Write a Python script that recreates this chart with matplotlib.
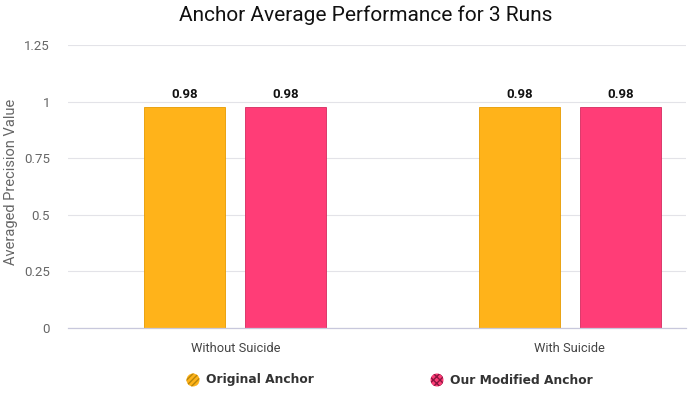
import matplotlib
matplotlib.use("Agg")
import matplotlib.pyplot as plt
from matplotlib.patches import Ellipse
import numpy as np

categories = ["Without Suicide", "With Suicide"]
series_names = ["Original Anchor", "Our Modified Anchor"]
original = [0.975, 0.975]
modified = [0.975, 0.975]
labels_orig = ["0.98", "0.98"]
labels_mod = ["0.98", "0.98"]
yticks = [0, 0.25, 0.5, 0.75, 1, 1.25]
ytick_labels = ["0", "0.25", "0.5", "0.75", "1", "1.25"]

colors = ["#FFB31A", "#FF3D77"]
edge = ["#E69A00", "#D62A5E"]

W, H = 688, 393
fig = plt.figure(figsize=(W/100, H/100), dpi=100)
ax = fig.add_axes([68/W, (H-328)/H, (686-68)/W, (328-45)/H])

x = np.arange(len(categories))
bw = 0.2425
off = 0.151
b1 = ax.bar(x - off, original, bw, color=colors[0], edgecolor=edge[0], linewidth=0.6, zorder=3)
b2 = ax.bar(x + off, modified, bw, color=colors[1], edgecolor=edge[1], linewidth=0.6, zorder=3)

for bars, labs in ((b1, labels_orig), (b2, labels_mod)):
    for r, l in zip(bars, labs):
        ax.text(r.get_x() + r.get_width()/2, r.get_height() + 0.027, l,
                ha="center", va="bottom", fontsize=9.5, fontweight="bold",
                color="#111111", family="Roboto")

ax.set_xlim(-0.5, 1.347)
ax.set_ylim(0, 1.25)
ax.set_yticks(yticks)
ax.set_yticklabels(ytick_labels, family="Roboto", fontsize=9.5, color="#666666")
ax.set_xticks(x)
ax.set_xticklabels(categories, family="Roboto", fontsize=9.3, color="#444444")
ax.tick_params(axis="y", length=0, pad=13)
ax.tick_params(axis="x", length=0, pad=10)
ax.grid(axis="y", color="#E3E3E8", linewidth=0.8, zorder=0)
for s in ["top", "right", "left"]:
    ax.spines[s].set_visible(False)
ax.spines["bottom"].set_color("#C8C8DC")
ax.spines["bottom"].set_linewidth(0.9)
ax.spines["bottom"].set_zorder(4)

ax.set_ylabel("Averaged Precision Value", family="Roboto", fontsize=10.5, color="#666666", labelpad=6)
ax.yaxis.set_label_coords(-50/618, 0.5 + (328 - 181.5 - 141.5)/283)
fig.text(366/W, 1 - 15/H, "Anchor Average Performance for 3 Runs", ha="center", va="center",
         family="Roboto", fontsize=15, color="#111111")

# legend
leg = [(193, 380, series_names[0], colors[0], "#B8860B", "//////"),
       (437, 380, series_names[1], colors[1], "#8A1540", "xxxxx")]
for cx, cy, name, fc, hc, hatch in leg:
    e = Ellipse((cx/W, 1 - cy/H), 13/W, 13/H, transform=fig.transFigure,
                facecolor=fc, edgecolor=hc, hatch=hatch, linewidth=0)
    fig.patches.append(e)
    fig.text((cx + 13)/W, 1 - cy/H, name, ha="left", va="center",
             family="DejaVu Sans", fontweight="bold", fontsize=8.8, color="#333333")

fig.savefig("out.png", dpi=100)
